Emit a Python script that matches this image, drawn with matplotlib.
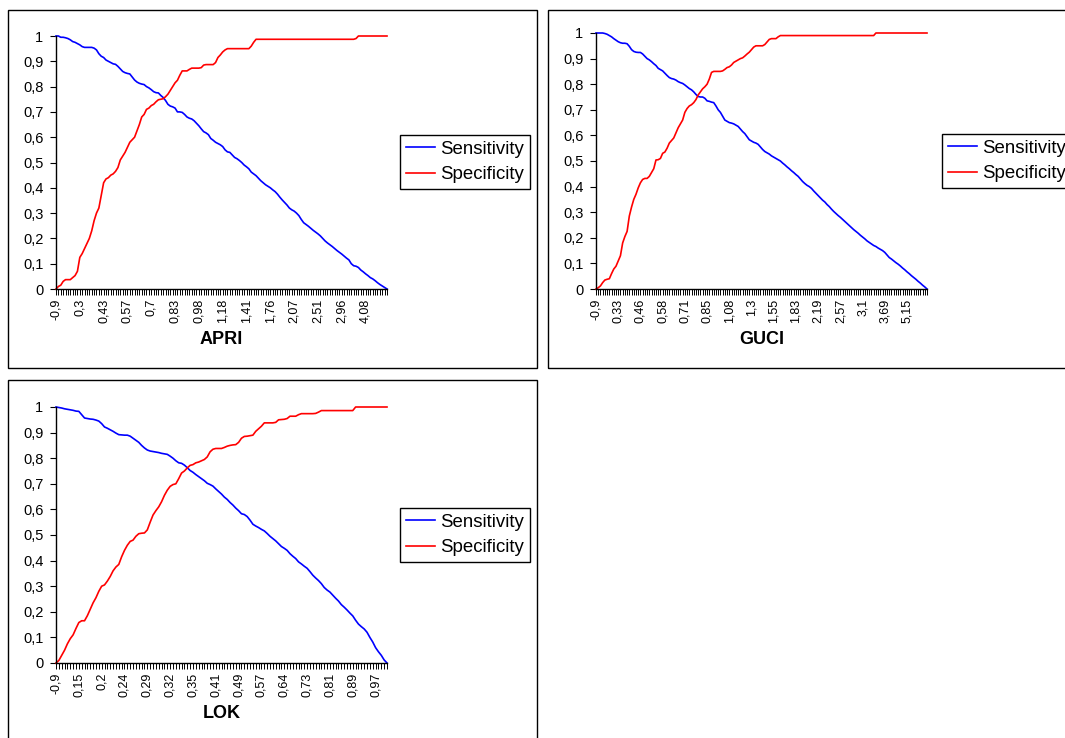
import matplotlib
matplotlib.use("Agg")
import matplotlib.pyplot as plt
from matplotlib.patches import Rectangle

plt.rcParams['font.family'] = ['Liberation Sans', 'DejaVu Sans']

# ---------------- data ----------------
series_names = ["Sensitivity", "Specificity"]

apri_tick_labels = ["-0,9", "0,3", "0,43", "0,57", "0,7", "0,83", "0,98", "1,18",
                    "1,41", "1,76", "2,07", "2,51", "2,96", "4,08"]
apri_label_step = 10
apri_sens = [
    1.0, 1.0, 0.995, 0.995, 0.993, 0.99, 0.985, 0.978, 0.975, 0.97,
    0.965, 0.958, 0.955, 0.955, 0.955, 0.955, 0.952, 0.945, 0.93, 0.92,
    0.915, 0.905, 0.90, 0.895, 0.89, 0.888, 0.88, 0.87, 0.86, 0.855,
    0.852, 0.85, 0.838, 0.826, 0.818, 0.813, 0.81, 0.808, 0.80, 0.795,
    0.788, 0.78, 0.776, 0.775, 0.765, 0.757, 0.745, 0.73, 0.723, 0.72,
    0.715, 0.70, 0.70, 0.698, 0.69, 0.68, 0.675, 0.672, 0.665, 0.655,
    0.645, 0.633, 0.622, 0.617, 0.61, 0.595, 0.588, 0.58, 0.575, 0.57,
    0.563, 0.55, 0.542, 0.54, 0.53, 0.52, 0.515, 0.508, 0.50, 0.49,
    0.483, 0.475, 0.462, 0.455, 0.448, 0.438, 0.428, 0.42, 0.412, 0.406,
    0.40, 0.392, 0.385, 0.375, 0.363, 0.352, 0.342, 0.332, 0.32, 0.313,
    0.308, 0.30, 0.29, 0.275, 0.262, 0.255, 0.248, 0.24, 0.232, 0.225,
    0.218, 0.21, 0.20, 0.19, 0.182, 0.175, 0.168, 0.16, 0.152, 0.145,
    0.138, 0.13, 0.122, 0.115, 0.10, 0.092, 0.09, 0.085, 0.075, 0.068,
    0.06, 0.053, 0.045, 0.04, 0.033, 0.025, 0.018, 0.012, 0.006, 0.0,
]
apri_spec = [
    0.0, 0.01, 0.015, 0.03, 0.037, 0.037, 0.037, 0.045, 0.053, 0.07,
    0.125, 0.14, 0.16, 0.18, 0.20, 0.23, 0.27, 0.30, 0.32, 0.37,
    0.42, 0.435, 0.44, 0.45, 0.455, 0.465, 0.48, 0.51, 0.525, 0.54,
    0.56, 0.58, 0.59, 0.60, 0.625, 0.65, 0.68, 0.69, 0.71, 0.715,
    0.725, 0.73, 0.74, 0.748, 0.75, 0.752, 0.76, 0.77, 0.785, 0.80,
    0.815, 0.825, 0.845, 0.862, 0.862, 0.862, 0.868, 0.873, 0.873, 0.873,
    0.873, 0.875, 0.885, 0.887, 0.887, 0.887, 0.887, 0.895, 0.915, 0.925,
    0.937, 0.945, 0.95, 0.95, 0.95, 0.95, 0.95, 0.95, 0.95, 0.95,
    0.95, 0.95, 0.96, 0.975, 0.987, 0.987, 0.987, 0.987, 0.987, 0.987,
    0.987, 0.987, 0.987, 0.987, 0.987, 0.987, 0.987, 0.987, 0.987, 0.987,
    0.987, 0.987, 0.987, 0.987, 0.987, 0.987, 0.987, 0.987, 0.987, 0.987,
    0.987, 0.987, 0.987, 0.987, 0.987, 0.987, 0.987, 0.987, 0.987, 0.987,
    0.987, 0.987, 0.987, 0.987, 0.987, 0.987, 0.99, 1.0, 1.0, 1.0,
    1.0, 1.0, 1.0, 1.0, 1.0, 1.0, 1.0, 1.0, 1.0, 1.0,
]

guci_tick_labels = ["-0,9", "0,33", "0,46", "0,58", "0,71", "0,85", "1,08", "1,3",
                    "1,55", "1,83", "2,19", "2,57", "3,1", "3,69", "5,15"]
guci_label_step = 10
guci_sens = [
    1.0, 1.0, 1.0, 1.0, 0.998, 0.995, 0.99, 0.985, 0.978, 0.972,
    0.966, 0.962, 0.96, 0.96, 0.958, 0.948, 0.935, 0.928, 0.925, 0.924,
    0.924, 0.918, 0.909, 0.90, 0.895, 0.888, 0.88, 0.873, 0.862, 0.857,
    0.852, 0.843, 0.834, 0.826, 0.822, 0.82, 0.816, 0.81, 0.806, 0.803,
    0.797, 0.79, 0.783, 0.778, 0.77, 0.76, 0.752, 0.75, 0.75, 0.745,
    0.735, 0.733, 0.73, 0.728, 0.715, 0.70, 0.69, 0.675, 0.66, 0.655,
    0.65, 0.648, 0.645, 0.64, 0.635, 0.625, 0.615, 0.607, 0.595, 0.583,
    0.578, 0.573, 0.57, 0.565, 0.555, 0.545, 0.537, 0.532, 0.527, 0.52,
    0.515, 0.51, 0.505, 0.50, 0.492, 0.485, 0.477, 0.47, 0.462, 0.455,
    0.447, 0.44, 0.43, 0.42, 0.412, 0.405, 0.40, 0.393, 0.383, 0.374,
    0.365, 0.356, 0.347, 0.34, 0.33, 0.322, 0.312, 0.303, 0.295, 0.287,
    0.28, 0.272, 0.264, 0.256, 0.248, 0.24, 0.232, 0.225, 0.218, 0.21,
    0.203, 0.196, 0.188, 0.182, 0.176, 0.17, 0.166, 0.16, 0.155, 0.15,
    0.143, 0.133, 0.123, 0.117, 0.11, 0.103, 0.097, 0.09, 0.082, 0.075,
    0.067, 0.06, 0.052, 0.045, 0.038, 0.03, 0.023, 0.015, 0.008, 0.0,
]
guci_spec = [
    0.0, 0.005, 0.012, 0.025, 0.035, 0.038, 0.04, 0.06, 0.078, 0.089,
    0.11, 0.13, 0.18, 0.205, 0.225, 0.285, 0.32, 0.35, 0.37, 0.395,
    0.415, 0.428, 0.432, 0.432, 0.44, 0.455, 0.47, 0.504, 0.505, 0.51,
    0.53, 0.535, 0.55, 0.57, 0.58, 0.59, 0.61, 0.63, 0.645, 0.66,
    0.69, 0.705, 0.715, 0.72, 0.728, 0.74, 0.758, 0.77, 0.782, 0.79,
    0.80, 0.82, 0.846, 0.85, 0.85, 0.85, 0.85, 0.852, 0.858, 0.865,
    0.868, 0.875, 0.885, 0.89, 0.895, 0.90, 0.903, 0.91, 0.918, 0.925,
    0.935, 0.945, 0.95, 0.95, 0.95, 0.95, 0.955, 0.965, 0.975, 0.978,
    0.978, 0.978, 0.985, 0.99, 0.99, 0.99, 0.99, 0.99, 0.99, 0.99,
    0.99, 0.99, 0.99, 0.99, 0.99, 0.99, 0.99, 0.99, 0.99, 0.99,
    0.99, 0.99, 0.99, 0.99, 0.99, 0.99, 0.99, 0.99, 0.99, 0.99,
    0.99, 0.99, 0.99, 0.99, 0.99, 0.99, 0.99, 0.99, 0.99, 0.99,
    0.99, 0.99, 0.99, 0.99, 0.99, 0.99, 1.0, 1.0, 1.0, 1.0,
    1.0, 1.0, 1.0, 1.0, 1.0, 1.0, 1.0, 1.0, 1.0, 1.0,
    1.0, 1.0, 1.0, 1.0, 1.0, 1.0, 1.0, 1.0, 1.0, 1.0,
]

lok_tick_labels = ["-0,9", "0,15", "0,2", "0,24", "0,29", "0,32", "0,35", "0,41",
                   "0,49", "0,57", "0,64", "0,73", "0,81", "0,89", "0,97"]
lok_label_step = 8
lok_sens = [
    1.0, 0.998, 0.996, 0.993, 0.991, 0.989, 0.987, 0.984, 0.983, 0.97,
    0.957, 0.955, 0.953, 0.952, 0.949, 0.945, 0.935, 0.922, 0.917, 0.911,
    0.905, 0.898, 0.892, 0.891, 0.89, 0.89, 0.886, 0.878, 0.87, 0.862,
    0.85, 0.84, 0.832, 0.828, 0.826, 0.824, 0.822, 0.819, 0.817, 0.815,
    0.808, 0.80, 0.79, 0.782, 0.78, 0.773, 0.763, 0.752, 0.745, 0.736,
    0.728, 0.72, 0.712, 0.702, 0.697, 0.691, 0.68, 0.67, 0.66, 0.648,
    0.639, 0.627, 0.617, 0.605, 0.595, 0.583, 0.58, 0.572, 0.558, 0.542,
    0.535, 0.529, 0.522, 0.516, 0.506, 0.495, 0.486, 0.477, 0.466, 0.455,
    0.448, 0.44, 0.427, 0.417, 0.408, 0.395, 0.387, 0.378, 0.37, 0.357,
    0.343, 0.332, 0.322, 0.31, 0.295, 0.285, 0.277, 0.265, 0.253, 0.242,
    0.228, 0.218, 0.207, 0.195, 0.184, 0.167, 0.152, 0.142, 0.133, 0.12,
    0.10, 0.082, 0.06, 0.044, 0.03, 0.012, 0.0,
]
lok_spec = [
    0.0, 0.01, 0.03, 0.05, 0.075, 0.095, 0.11, 0.135, 0.158, 0.165,
    0.165, 0.185, 0.21, 0.235, 0.255, 0.28, 0.30, 0.305, 0.32, 0.338,
    0.36, 0.375, 0.385, 0.415, 0.44, 0.46, 0.475, 0.48, 0.495, 0.505,
    0.507, 0.508, 0.52, 0.55, 0.578, 0.595, 0.61, 0.63, 0.655, 0.675,
    0.69, 0.697, 0.70, 0.72, 0.742, 0.75, 0.762, 0.772, 0.775, 0.782,
    0.785, 0.79, 0.795, 0.805, 0.825, 0.835, 0.838, 0.838, 0.838, 0.842,
    0.847, 0.85, 0.852, 0.853, 0.862, 0.878, 0.885, 0.886, 0.888, 0.89,
    0.905, 0.915, 0.925, 0.938, 0.938, 0.938, 0.938, 0.94, 0.95, 0.951,
    0.952, 0.955, 0.964, 0.964, 0.964, 0.97, 0.974, 0.974, 0.974, 0.974,
    0.974, 0.975, 0.98, 0.986, 0.986, 0.986, 0.986, 0.986, 0.986, 0.986,
    0.986, 0.986, 0.986, 0.986, 0.986, 1.0, 1.0, 1.0, 1.0, 1.0,
    1.0, 1.0, 1.0, 1.0, 1.0, 1.0, 1.0,
]

y_ticks = [0, 0.1, 0.2, 0.3, 0.4, 0.5, 0.6, 0.7, 0.8, 0.9, 1.0]
y_tick_labels = ["0", "0,1", "0,2", "0,3", "0,4", "0,5", "0,6", "0,7", "0,8", "0,9", "1"]

# ---------------- figure ----------------
W, H = 1065, 738
fig = plt.figure(figsize=(W / 100, H / 100), dpi=100)
fig.patch.set_facecolor("white")


def box(x0, y0, x1, y1):
    fig.add_artist(Rectangle((x0 / W, 1 - y1 / H), (x1 - x0) / W, (y1 - y0) / H,
                             transform=fig.transFigure, fill=False,
                             edgecolor="black", linewidth=1.0))


def panel(rect, title, sens, spec, labels, step, legend_xy):
    x0, y0, x1, y1 = rect
    ax = fig.add_axes([x0 / W, 1 - y1 / H, (x1 - x0) / W, (y1 - y0) / H])
    n = len(sens)
    cats = list(range(n))
    ax.plot(cats, sens, color="#0000FF", linewidth=1.2, label=series_names[0],
            clip_on=False)
    ax.plot(cats, spec, color="#FF0000", linewidth=1.2, label=series_names[1],
            clip_on=False)
    ax.set_xlim(0, n - 1)
    ax.set_ylim(0, 1)
    for s in ("top", "right"):
        ax.spines[s].set_visible(False)
    for s in ("left", "bottom"):
        ax.spines[s].set_linewidth(1.0)
        ax.spines[s].set_color("black")
    ax.set_yticks(y_ticks)
    ax.set_yticklabels(y_tick_labels, fontsize=10.5)
    ax.set_xticks([i * step for i in range(len(labels))])
    ax.set_xticklabels(labels, rotation=90, fontsize=9, va="top", ha="center")
    ax.set_xticks(cats, minor=True)
    ax.tick_params(axis="y", direction="out", length=4, width=0.8, pad=5)
    ax.tick_params(axis="x", which="both", direction="out", length=4, width=0.7, pad=3)
    ax.set_xlabel(title, fontsize=13, fontweight="bold", labelpad=6)
    lx, ly = legend_xy
    leg = ax.legend(loc="upper left", bbox_to_anchor=(lx / W, 1 - ly / H),
                    bbox_transform=fig.transFigure, fontsize=13.4,
                    frameon=True, fancybox=False, framealpha=1,
                    edgecolor="black", handlelength=1.55, handletextpad=0.28,
                    borderpad=0.32, labelspacing=0.45, borderaxespad=0)
    leg.get_frame().set_linewidth(1.0)
    return ax


box(8, 10, 537, 368)
box(548, 10, 1075, 368)
box(8, 380, 537, 748)

panel((56, 36, 387, 289), "APRI", apri_sens, apri_spec, apri_tick_labels,
      apri_label_step, (400, 135))
panel((596, 33, 927, 289), "GUCI", guci_sens, guci_spec, guci_tick_labels,
      guci_label_step, (942, 134))
panel((56, 407, 387, 663), "LOK", lok_sens, lok_spec, lok_tick_labels,
      lok_label_step, (400, 508))

fig.savefig("out.png", dpi=100)
